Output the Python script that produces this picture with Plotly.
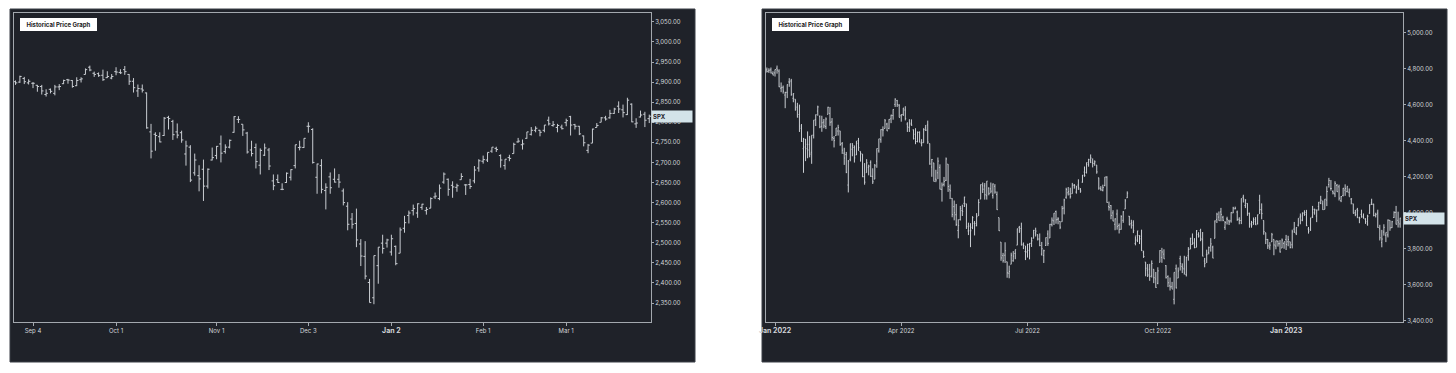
import pandas as pd
import plotly.graph_objects as go

# ---------------- Left chart: SPX Aug 2018 - Mar 2019 ----------------
left_holidays = ["2018-09-03", "2018-11-22", "2018-12-05", "2018-12-25",
                 "2019-01-01", "2019-01-21", "2019-02-18"]
left_start, left_end = "2018-08-28", "2019-03-28"

left_open = [2901, 2900, 2909, 2898,
    2897, 2892, 2889, 2869, 2882, 2872, 2888, 2896, 2906, 2904, 2891, 2906, 2919, 2937, 2922, 2921, 2917, 2911, 2910,
    2926, 2924, 2931, 2919, 2902, 2878, 2883, 2873, 2776, 2770, 2764, 2767, 2812, 2802, 2776, 2774, 2721, 2738, 2674, 2667, 2683, 2641, 2706,
    2717, 2746, 2727, 2738, 2775, 2807, 2795, 2773, 2731, 2737, 2693, 2718, 2731, 2654, 2657, 2633, 2650, 2663, 2692, 2737, 2737,
    2790, 2782, 2663, 2692, 2630, 2664, 2658, 2658, 2629, 2591, 2559, 2548, 2497, 2466, 2401, 2363, 2443, 2499, 2499,
    2477, 2491, 2474, 2536, 2568, 2580, 2574, 2588, 2580, 2586, 2614, 2610, 2651, 2658, 2643, 2638, 2657, 2644, 2645, 2654, 2686,
    2703, 2706, 2728, 2735, 2717, 2692, 2712, 2722, 2751, 2744, 2760, 2770, 2780, 2780, 2780, 2805, 2792, 2787, 2788,
    2799, 2814, 2794, 2790, 2766, 2730, 2748, 2787, 2800, 2811, 2811, 2822, 2840, 2831, 2819, 2845, 2796, 2813, 2820, 2809]
left_high = [2904, 2916, 2913, 2907,
    2900, 2893, 2893, 2882, 2884, 2893, 2895, 2906, 2908, 2905, 2912, 2912, 2934, 2941, 2926, 2924, 2931, 2927, 2920,
    2937, 2932, 2940, 2920, 2910, 2894, 2894, 2874, 2796, 2775, 2775, 2813, 2816, 2806, 2797, 2779, 2754, 2743, 2722, 2693, 2707, 2685, 2737,
    2741, 2767, 2745, 2757, 2815, 2815, 2795, 2776, 2754, 2747, 2735, 2747, 2736, 2670, 2670, 2648, 2675, 2683, 2744, 2754, 2760,
    2800, 2785, 2697, 2708, 2648, 2675, 2685, 2671, 2635, 2601, 2574, 2585, 2509, 2504, 2410, 2468, 2489, 2520, 2510,
    2520, 2493, 2538, 2567, 2580, 2595, 2598, 2597, 2589, 2613, 2625, 2645, 2675, 2660, 2653, 2647, 2673, 2646, 2659, 2691, 2708,
    2717, 2725, 2738, 2739, 2720, 2708, 2719, 2749, 2761, 2757, 2776, 2788, 2790, 2781, 2793, 2814, 2803, 2796, 2794,
    2809, 2816, 2796, 2791, 2767, 2746, 2784, 2798, 2813, 2816, 2831, 2836, 2852, 2844, 2861, 2847, 2810, 2829, 2826, 2819]
left_low = [2893, 2898, 2895, 2894,
    2885, 2876, 2869, 2864, 2872, 2867, 2880, 2895, 2896, 2886, 2890, 2899, 2919, 2927, 2913, 2913, 2903, 2910, 2907,
    2917, 2920, 2918, 2893, 2874, 2863, 2874, 2784, 2710, 2729, 2750, 2766, 2782, 2756, 2760, 2749, 2692, 2651, 2667, 2628, 2604, 2635, 2705,
    2708, 2700, 2722, 2735, 2774, 2798, 2766, 2722, 2715, 2685, 2670, 2716, 2681, 2631, 2649, 2631, 2649, 2655, 2685, 2730, 2736,
    2774, 2697, 2622, 2623, 2583, 2622, 2650, 2637, 2593, 2531, 2535, 2489, 2442, 2409, 2351, 2347, 2398, 2473, 2488,
    2468, 2444, 2474, 2525, 2548, 2568, 2562, 2582, 2570, 2586, 2609, 2606, 2647, 2617, 2612, 2627, 2657, 2619, 2634, 2648, 2677,
    2697, 2701, 2724, 2726, 2687, 2682, 2703, 2722, 2749, 2732, 2759, 2767, 2775, 2765, 2775, 2792, 2789, 2775, 2782,
    2790, 2767, 2782, 2768, 2740, 2723, 2748, 2787, 2800, 2804, 2809, 2821, 2823, 2812, 2818, 2800, 2786, 2812, 2788, 2798]
left_close = [2898, 2914, 2901, 2902,
    2897, 2889, 2878, 2872, 2877, 2888, 2889, 2904, 2905, 2889, 2904, 2908, 2931, 2930, 2919, 2916, 2906, 2914, 2914,
    2925, 2923, 2926, 2902, 2886, 2884, 2880, 2786, 2728, 2767, 2751, 2810, 2809, 2769, 2768, 2756, 2741, 2656, 2706, 2659, 2641, 2683, 2712,
    2740, 2723, 2738, 2755, 2814, 2807, 2781, 2726, 2722, 2702, 2730, 2736, 2691, 2642, 2650, 2633, 2673, 2682, 2744, 2738, 2760,
    2790, 2700, 2696, 2633, 2638, 2637, 2651, 2651, 2600, 2546, 2546, 2507, 2467, 2417, 2351, 2468, 2489, 2486, 2507,
    2510, 2448, 2532, 2550, 2574, 2585, 2597, 2596, 2583, 2610, 2616, 2636, 2671, 2633, 2639, 2642, 2665, 2644, 2640, 2681, 2704,
    2707, 2725, 2738, 2732, 2706, 2708, 2710, 2745, 2753, 2746, 2776, 2780, 2785, 2775, 2793, 2796, 2794, 2792, 2784,
    2804, 2793, 2790, 2771, 2749, 2743, 2783, 2792, 2811, 2808, 2822, 2833, 2833, 2824, 2855, 2801, 2798, 2818, 2805, 2815]
left_tick_dates = ["2018-09-04", "2018-10-01", "2018-11-01", "2018-12-03", "2019-01-02", "2019-02-01", "2019-03-01"]
left_tick_text = ["Sep 4", "Oct 1", "Nov 1", "Dec 3", "Jan 2", "Feb 1", "Mar 1"]
left_tick_bold = [False, False, False, False, True, False, False]

# ---------------- Right chart: SPX Dec 2021 - Mar 2023 ----------------
right_holidays = ["2022-01-17", "2022-02-21", "2022-04-15", "2022-05-30", "2022-06-20", "2022-07-04",
                  "2022-09-05", "2022-11-24", "2022-12-26", "2023-01-02", "2023-01-16", "2023-02-20"]
right_start, right_end = "2021-12-28", "2023-03-24"

right_open = [4795, 4789, 4795, 4775,
    4778, 4804, 4788, 4693, 4698, 4655, 4670, 4728, 4733, 4637, 4632, 4588, 4547, 4471, 4357, 4366, 4381, 4381, 4337, 4432,
    4519, 4566, 4535, 4482, 4505, 4480, 4548, 4553, 4506, 4413, 4430, 4455, 4456, 4385, 4332, 4324, 4155, 4298, 4354,
    4364, 4322, 4401, 4342, 4327, 4202, 4224, 4253, 4280, 4202, 4188, 4288, 4345, 4407, 4462, 4469, 4494, 4470, 4523, 4541, 4603, 4624, 4599,
    4540, 4547, 4572, 4494, 4475, 4494, 4462, 4437, 4397, 4449, 4386, 4390, 4473, 4489, 4385, 4255, 4278, 4188, 4223, 4253,
    4131, 4159, 4181, 4271, 4129, 4081, 4035, 3990, 3903, 3963, 4013, 4053, 4051, 3900, 3927, 3920, 3942, 3929, 3985, 4077, 4151,
    4150, 4096, 4138, 4134, 4097, 4148, 4102, 3974, 3838, 3763, 3765, 3729, 3665, 3715, 3734, 3775, 3821, 3920, 3913, 3826, 3786,
    3782, 3792, 3831, 3859, 3889, 3880, 3855, 3771, 3763, 3819, 3883, 3861, 3935, 3956, 4008, 3965, 3953, 3951, 4027, 4087,
    4112, 4105, 4107, 4154, 4116, 4155, 4133, 4171, 4227, 4225, 4270, 4290, 4281, 4274, 4266, 4195, 4135, 4126, 4153, 4199, 4035, 4041, 4000,
    3937, 3994, 3930, 3909, 3959, 4022, 4084, 3982, 3940, 3932, 3831, 3849, 3875, 3871, 3782, 3727, 3682, 3687, 3651, 3687, 3633,
    3609, 3726, 3753, 3771, 3707, 3647, 3595, 3590, 3520, 3690, 3638, 3746, 3703, 3689, 3657, 3762, 3799, 3825, 3834, 3809, 3881,
    3902, 3853, 3733, 3767, 3780, 3817, 3810, 3859, 3964, 3977, 4006, 3976, 3920, 3967, 3956, 3956, 4000, 4023, 4005, 3965, 3958,
    4087, 4041, 4053, 3996, 3934, 3947, 3954, 3940, 4070, 4016, 3958, 3890, 3853, 3810, 3840, 3853, 3816, 3843, 3829, 3805, 3830,
    3853, 3840, 3840, 3823, 3910, 3888, 3932, 3977, 3960, 3999, 4003, 3911, 3909, 3978, 4001, 3983, 4036, 4053, 4050, 4020,
    4071, 4158, 4136, 4120, 4106, 4153, 4145, 4068, 4097, 4127, 4119, 4115, 4077, 4051, 4001, 4018, 3973, 3992, 3977,
    3964, 3938, 3999, 4055, 4049, 3988, 3999, 3912, 3835, 3894, 3876, 3878, 3959, 3918, 3975, 4003, 3959, 3939]
right_high = [4808, 4804, 4808, 4787,
    4797, 4819, 4798, 4725, 4708, 4673, 4714, 4749, 4745, 4665, 4632, 4612, 4602, 4494, 4417, 4412, 4453, 4428, 4432, 4516,
    4547, 4596, 4542, 4540, 4522, 4531, 4590, 4588, 4527, 4427, 4472, 4490, 4456, 4394, 4362, 4339, 4294, 4385, 4388,
    4375, 4401, 4417, 4342, 4327, 4277, 4299, 4268, 4292, 4248, 4272, 4358, 4412, 4465, 4481, 4522, 4501, 4521, 4546, 4576, 4637, 4628, 4604,
    4548, 4583, 4593, 4504, 4521, 4520, 4464, 4471, 4453, 4453, 4410, 4471, 4489, 4513, 4386, 4300, 4278, 4240, 4308, 4270,
    4169, 4200, 4308, 4271, 4158, 4082, 4069, 4050, 3965, 4039, 4046, 4090, 4051, 3946, 3943, 3982, 3955, 3999, 4076, 4158, 4169,
    4166, 4177, 4142, 4169, 4164, 4160, 4119, 3974, 3838, 3778, 3837, 3729, 3707, 3779, 3788, 3796, 3913, 3928, 3946, 3836, 3818,
    3829, 3832, 3865, 3906, 3918, 3880, 3886, 3839, 3796, 3864, 3903, 3939, 3975, 3999, 4013, 3976, 3954, 4039, 4079, 4140,
    4144, 4140, 4167, 4161, 4151, 4187, 4138, 4211, 4258, 4280, 4301, 4325, 4303, 4292, 4266, 4196, 4149, 4157, 4200, 4204, 4063, 4044, 4015,
    3970, 4019, 3942, 3987, 4010, 4077, 4120, 3983, 3962, 3959, 3870, 3901, 3876, 3907, 3790, 3727, 3716, 3717, 3736, 3687, 3672,
    3698, 3793, 3806, 3798, 3710, 3653, 3641, 3617, 3670, 3713, 3697, 3762, 3720, 3762, 3757, 3810, 3862, 3886, 3860, 3905, 3893,
    3912, 3894, 3750, 3796, 3813, 3860, 3818, 3958, 4001, 4008, 4028, 3984, 3955, 3979, 3962, 4004, 4034, 4035, 4013, 3976, 4080,
    4101, 4076, 4054, 4002, 3956, 3975, 3977, 3991, 4101, 4053, 3958, 3890, 3855, 3838, 3889, 3853, 3846, 3846, 3849, 3858, 3840,
    3878, 3873, 3840, 3907, 3950, 3920, 3970, 3997, 4003, 4015, 4017, 3922, 3973, 4039, 4024, 4019, 4061, 4095, 4069, 4077,
    4148, 4195, 4183, 4125, 4176, 4161, 4157, 4094, 4139, 4159, 4148, 4136, 4081, 4051, 4017, 4028, 3979, 4018, 3997,
    3971, 3990, 4048, 4079, 4051, 4001, 4018, 3934, 3906, 3937, 3891, 3964, 3959, 3956, 4009, 4039, 4007, 3973]
right_low = [4780, 4778, 4775, 4765,
    4758, 4774, 4699, 4671, 4663, 4582, 4638, 4701, 4651, 4615, 4568, 4530, 4450, 4395, 4223, 4288, 4304, 4309, 4273, 4414,
    4483, 4540, 4471, 4451, 4471, 4466, 4548, 4484, 4401, 4364, 4429, 4430, 4373, 4328, 4267, 4221, 4114, 4287, 4315,
    4280, 4322, 4345, 4285, 4199, 4157, 4224, 4209, 4200, 4161, 4188, 4251, 4335, 4390, 4425, 4469, 4455, 4465, 4499, 4518, 4589, 4589, 4531,
    4507, 4539, 4514, 4450, 4450, 4484, 4408, 4382, 4392, 4392, 4370, 4390, 4455, 4384, 4268, 4201, 4175, 4171, 4188, 4131,
    4063, 4147, 4177, 4117, 4077, 3976, 3959, 3928, 3859, 3958, 3983, 4033, 3911, 3877, 3810, 3910, 3875, 3926, 3984, 4077, 4111,
    4074, 4074, 4098, 4109, 4080, 4107, 4017, 3900, 3734, 3724, 3722, 3640, 3637, 3715, 3729, 3743, 3821, 3889, 3820, 3799, 3738,
    3752, 3742, 3811, 3859, 3869, 3847, 3815, 3763, 3722, 3817, 3817, 3861, 3925, 3933, 3940, 3937, 3910, 3951, 3992, 4079,
    4097, 4080, 4107, 4135, 4107, 4128, 4112, 4168, 4201, 4219, 4257, 4277, 4253, 4262, 4218, 4129, 4124, 4120, 4148, 4057, 4013, 3965, 3954,
    3904, 3907, 3886, 3907, 3945, 4022, 4083, 3932, 3913, 3888, 3820, 3838, 3827, 3789, 3750, 3648, 3644, 3623, 3641, 3610, 3584,
    3604, 3726, 3723, 3745, 3636, 3588, 3569, 3578, 3492, 3581, 3638, 3680, 3666, 3657, 3647, 3735, 3799, 3824, 3804, 3809, 3863,
    3843, 3759, 3698, 3722, 3770, 3785, 3749, 3859, 3944, 3957, 3954, 3954, 3906, 3936, 3933, 3946, 3999, 4020, 3956, 3937, 3938,
    4058, 4027, 3984, 3918, 3918, 3934, 3933, 3936, 3994, 3965, 3879, 3827, 3800, 3795, 3839, 3765, 3798, 3813, 3780, 3805, 3801,
    3794, 3815, 3803, 3803, 3890, 3877, 3925, 3937, 3954, 3984, 3927, 3885, 3900, 3972, 3990, 3949, 4013, 4049, 4017, 4020,
    4038, 4141, 4124, 4103, 4088, 4117, 4069, 4060, 4092, 4095, 4114, 4091, 4048, 3997, 3982, 3971, 3943, 3973, 3969,
    3939, 3929, 3995, 4044, 3981, 3975, 3918, 3847, 3809, 3874, 3838, 3864, 3901, 3916, 3972, 3936, 3919, 3918]
right_close = [4786, 4793, 4778, 4766,
    4797, 4794, 4701, 4696, 4677, 4670, 4713, 4726, 4659, 4663, 4577, 4533, 4483, 4398, 4410, 4357, 4350, 4327, 4432, 4516,
    4546, 4589, 4478, 4501, 4484, 4522, 4587, 4504, 4419, 4402, 4472, 4475, 4380, 4349, 4305, 4226, 4288, 4385, 4374,
    4306, 4387, 4363, 4329, 4201, 4171, 4278, 4260, 4204, 4173, 4262, 4358, 4412, 4463, 4461, 4512, 4456, 4520, 4543, 4575, 4632, 4602, 4530,
    4546, 4583, 4525, 4481, 4500, 4488, 4413, 4397, 4447, 4393, 4391, 4463, 4460, 4394, 4272, 4297, 4175, 4183, 4288, 4132,
    4155, 4175, 4300, 4147, 4123, 3991, 4001, 3935, 3930, 4024, 4008, 4088, 3924, 3901, 3901, 3974, 3941, 3979, 4058, 4158, 4132,
    4101, 4177, 4109, 4121, 4161, 4116, 4018, 3901, 3750, 3735, 3790, 3667, 3675, 3765, 3760, 3796, 3912, 3900, 3821, 3819, 3785,
    3825, 3831, 3845, 3903, 3899, 3855, 3819, 3801, 3790, 3863, 3831, 3937, 3960, 3999, 3962, 3967, 3921, 4024, 4072, 4130,
    4119, 4091, 4155, 4152, 4145, 4140, 4122, 4210, 4207, 4280, 4297, 4305, 4275, 4284, 4228, 4138, 4128, 4141, 4200, 4058, 4031, 3986, 3955,
    3967, 3924, 3909, 3980, 4006, 4067, 4110, 3933, 3946, 3901, 3873, 3900, 3856, 3790, 3758, 3693, 3655, 3647, 3719, 3640, 3586,
    3678, 3791, 3783, 3745, 3640, 3612, 3589, 3577, 3670, 3583, 3677, 3720, 3695, 3666, 3752, 3797, 3859, 3830, 3807, 3901, 3872,
    3856, 3760, 3720, 3771, 3807, 3828, 3749, 3956, 3993, 3957, 3992, 3959, 3947, 3965, 3950, 4003, 4027, 4026, 3964, 3958, 4080,
    4077, 4072, 3999, 3941, 3933, 3964, 3934, 3990, 4019, 3996, 3896, 3852, 3817, 3821, 3879, 3822, 3845, 3829, 3783, 3849, 3840,
    3825, 3853, 3808, 3895, 3893, 3919, 3970, 3983, 3999, 3991, 3929, 3899, 3973, 4020, 4017, 4016, 4060, 4071, 4018, 4077,
    4119, 4180, 4136, 4111, 4164, 4118, 4082, 4091, 4137, 4136, 4148, 4090, 4079, 3997, 3991, 4012, 3970, 3982, 3970,
    3951, 3982, 4046, 4048, 3986, 3992, 3919, 3862, 3855, 3920, 3892, 3960, 3917, 3951, 4003, 3937, 3949, 3971]
right_tick_dates = ["2022-01-03", "2022-04-01", "2022-07-01", "2022-10-03", "2023-01-03"]
right_tick_text = ["Jan 2022", "Apr 2022", "Jul 2022", "Oct 2022", "Jan 2023"]
right_tick_bold = [True, False, False, False, True]

title_text = "Historical Price Graph"
symbol = "SPX"


def trading_days(start, end, holidays):
    d = pd.bdate_range(start, end, freq="C", holidays=holidays)
    return [x.strftime("%Y-%m-%d") for x in d]


def fmt_ticks(texts, bold):
    return ["<b><span style='font-size:7px'>%s</span></b>" % t if b else t for t, b in zip(texts, bold)]


left_dates = trading_days(left_start, left_end, left_holidays)
right_dates = trading_days(right_start, right_end, right_holidays)

W, H = 1456, 373
BG = "#1f2229"
BAR = "#c9cdd2"
FRAME = "#a3a8ae"
TXT = "#d3d6d9"
FONT = "Inter, Roboto, 'Open Sans', sans-serif"


def px_x(p):
    return p / W


def px_y(p):
    return 1 - p / H


fig = go.Figure()


def add_ohlc(dates, o, h, l, c, xa, ya):
    n = min(len(dates), len(o), len(h), len(l), len(c))
    fig.add_trace(go.Ohlc(
        x=dates[:n], open=o[:n], high=h[:n], low=l[:n], close=c[:n],
        xaxis=xa, yaxis=ya, tickwidth=0.4, hoverinfo="skip", showlegend=False,
        increasing=dict(line=dict(color=BAR, width=1)),
        decreasing=dict(line=dict(color=BAR, width=1)),
    ))
    return n


nl = add_ohlc(left_dates, left_open, left_high, left_low, left_close, "x", "y")
nr = add_ohlc(right_dates, right_open, right_high, right_low, right_close, "x2", "y2")

ydom = [px_y(322), px_y(13)]
common_x = dict(type="category", showgrid=False, zeroline=False, showline=True, linecolor=FRAME,
                linewidth=1, mirror=True, ticks="outside", ticklen=3, tickcolor=FRAME,
                tickfont=dict(family=FONT, size=6, color=TXT), rangeslider=dict(visible=False),
                tickangle=0)
common_y = dict(side="right", showgrid=False, zeroline=False, showline=True, linecolor=FRAME,
                linewidth=1, mirror=True, ticks="outside", ticklen=2, tickcolor=FRAME,
                tickformat=",.2f", tickfont=dict(family=FONT, size=6, color=TXT), domain=ydom)

fig.update_layout(
    width=W, height=H, margin=dict(l=0, r=0, t=0, b=0, autoexpand=False),
    paper_bgcolor="white", plot_bgcolor=BG,
    font=dict(family=FONT),
    xaxis=dict(common_x, domain=[px_x(14), px_x(651)], range=[-0.35, 145.4],
               tickmode="array", tickvals=left_tick_dates, ticktext=fmt_ticks(left_tick_text, left_tick_bold)),
    yaxis=dict(common_y, anchor="x", range=[2302.7, 3072], tick0=0, dtick=50),
    xaxis2=dict(common_x, domain=[px_x(766), px_x(1403)], range=[-0.42, 312.4], anchor="y2",
                tickmode="array", tickvals=right_tick_dates, ticktext=fmt_ticks(right_tick_text, right_tick_bold)),
    yaxis2=dict(common_y, anchor="x2", range=[3394, 5111], tick0=0, dtick=200),
)

# dark panels behind each chart
for x0, x1 in [(10, 695), (762, 1447)]:
    fig.add_shape(type="rect", xref="paper", yref="paper",
                  x0=px_x(x0), x1=px_x(x1), y0=px_y(362), y1=px_y(9),
                  fillcolor=BG, line=dict(color="#3b3f47", width=1), layer="below")

# title badges
for x0 in [20, 772]:
    fig.add_annotation(xref="paper", yref="paper", x=px_x(x0), y=px_y(18),
                       xanchor="left", yanchor="top", showarrow=False,
                       text="<b>" + title_text + "</b>", bgcolor="white", bordercolor="white",
                       borderwidth=0, borderpad=2, width=73, height=9,
                       font=dict(family=FONT, size=6, color="#222222"))

# last-price symbol tags
for xp, ya, closes, n in [(651, "y", left_close, nl), (1403, "y2", right_close, nr)]:
    fig.add_annotation(xref="paper", yref=ya, x=px_x(xp), y=closes[n - 1],
                       xanchor="left", yanchor="middle", showarrow=False,
                       text="<b>" + symbol + "</b>", align="left",
                       bgcolor="#d3e3e9", borderpad=1, width=38, height=9,
                       font=dict(family=FONT, size=6, color="#1f2229"))

fig.write_html(
    "out.html",
    config={"displayModeBar": False, "staticPlot": True},
    post_script="document.body.style.margin='0';document.body.style.overflow='hidden';",
)
